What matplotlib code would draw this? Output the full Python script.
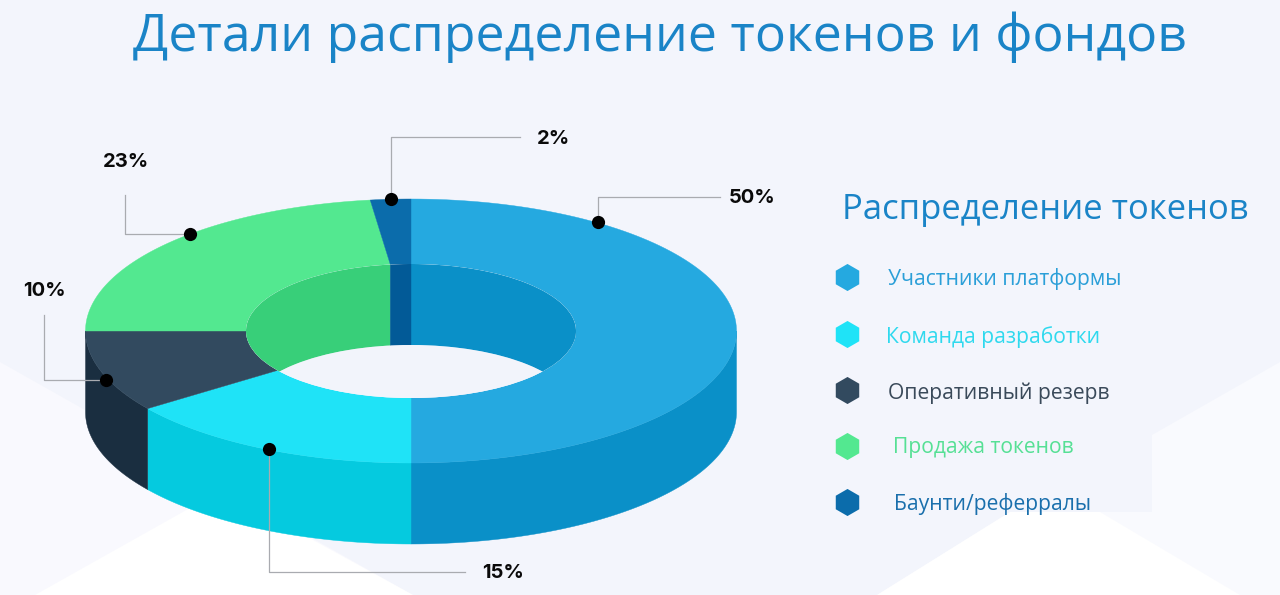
import matplotlib
matplotlib.use("Agg")
import matplotlib.pyplot as plt
import numpy as np
from matplotlib.patches import Polygon, Ellipse

# share of tokens, clockwise from the top of the ring
labels = ["Участники платформы", "Команда разработки", "Оперативный резерв", "Продажа токенов", "Баунти/реферралы"]
values = [50, 15, 10, 23, 2]
pct_labels = ["50%", "15%", "10%", "23%", "2%"]

top_colors = ["#25a9e0", "#1fe3f7", "#324a5f", "#53e890", "#0b6cab"]
side_colors = ["#0a90c8", "#05cadf", "#1a2e40", "#38cf79", "#025a97"]
legend_text_colors = ["#2b9fd8", "#2fd9ee", "#3a4a5a", "#56e095", "#1a6fac"]

BG = "#f3f5fc"
CX, CY = 411, 331
RX, RY = 325.5, 132
IRX, IRY = 165, 67
DEPTH = 81

plt.rcParams["font.family"] = ["Open Sans", "DejaVu Sans"]
fig = plt.figure(figsize=(12.8, 5.95), dpi=100, facecolor=BG)
ax = fig.add_axes([0, 0, 1, 1])
ax.set_xlim(0, 1280)
ax.set_ylim(595, 0)
ax.axis("off")

# faint background shapes
ax.add_patch(Polygon([(0, 362), (413, 595), (0, 595)], fc="#f9f9fe", ec="none"))
ax.add_patch(Polygon([(35, 595), (222, 490), (413, 595)], fc="white", ec="none"))
ax.add_patch(Polygon([(877, 595), (1010, 512), (1152, 512), (1152, 435), (1280, 362), (1280, 595)], fc="#f9fafe", ec="none"))
ax.add_patch(Polygon([(877, 595), (1010, 512), (1100, 512), (1240, 595)], fc="white", ec="none"))


def arc(a0, a1, rx, ry, dy=0):
    t = np.radians(np.linspace(a0, a1, 120))
    return np.column_stack([CX + rx * np.sin(t), CY - ry * np.cos(t) + dy])


edges = np.concatenate([[0], np.cumsum(values)]) * 360 / sum(values)

# outer wall, front half only
for i in range(len(values)):
    a0, a1 = max(edges[i], 90), min(edges[i + 1], 270)
    if a1 > a0:
        pts = np.vstack([arc(a0, a1, RX, RY), arc(a1, a0, RX, RY, DEPTH)])
        ax.add_patch(Polygon(pts, fc=side_colors[i], ec=side_colors[i], lw=0.3, zorder=2))

# top of the ring
for i in range(len(values)):
    pts = np.vstack([arc(edges[i], edges[i + 1], RX, RY), arc(edges[i + 1], edges[i], IRX, IRY)])
    ax.add_patch(Polygon(pts, fc=top_colors[i], ec=top_colors[i], lw=0.3, zorder=3))

# inner wall seen through the hole
hole = Ellipse((CX, CY), 2 * IRX, 2 * IRY, fc=BG, ec="none", zorder=4)
ax.add_patch(hole)
for i in range(len(values)):
    for lo, hi in [(0, 90), (270, 360)]:
        a0, a1 = max(edges[i], lo), min(edges[i + 1], hi)
        if a1 > a0:
            pts = np.vstack([arc(a0, a1, IRX, IRY), arc(a1, a0, IRX, IRY, DEPTH)])
            p = Polygon(pts, fc=side_colors[i], ec=side_colors[i], lw=0.3, zorder=5)
            ax.add_patch(p)
            p.set_clip_path(hole)
floor = Ellipse((CX, CY + DEPTH), 2 * IRX, 2 * IRY, fc="#f2f4fb", ec="none", zorder=6)
ax.add_patch(floor)
floor.set_clip_path(hole)

# leader lines and dots, same order as values
leaders = [
    [(598, 222), (598, 197), (720, 197)],
    [(269, 449), (269, 572), (465, 572)],
    [(106, 380), (44, 380), (44, 315)],
    [(190, 234), (125, 234), (125, 195)],
    [(391, 199), (391, 137), (520, 137)],
]
pct_pos = [(752, 198), (503, 573), (44, 291), (126, 162), (554, 139)]
for pts, txt, pos in zip(leaders, pct_labels, pct_pos):
    xs, ys = zip(*pts)
    ax.plot(xs, ys, color="#a9abb0", lw=0.9, zorder=7)
    ax.plot(xs[0], ys[0], "o", color="black", ms=9.5, mew=0, zorder=8)
    ax.text(pos[0], pos[1], txt, ha="center", va="center", fontsize=14.5, fontweight="bold",
            family=["Inter", "DejaVu Sans"], color="#0a0a0a", zorder=8)

ax.text(660, 37, "Детали распределение токенов и фондов", ha="center", va="center",
        fontsize=37.3, color="#1a84c7")
ax.text(1045, 210, "Распределение токенов", ha="center", va="center", fontsize=24.9, color="#1a84c7")

legend_y = [277, 334, 390, 446, 502]
text_x = [888, 886, 888, 893, 894]
text_y = [279, 337, 393, 448, 504]
for i, name in enumerate(labels):
    ax.plot(847, legend_y[i], marker="h", color=top_colors[i], ms=19.5, mew=0, zorder=8)
    ax.text(text_x[i], text_y[i], name, ha="left", va="center", fontsize=15.2, color=legend_text_colors[i])

fig.savefig("out.png", dpi=100, facecolor=BG)
